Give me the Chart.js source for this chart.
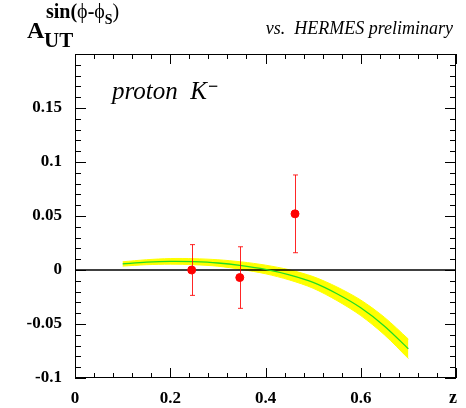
<!DOCTYPE html>
<html>
<head>
<meta charset="utf-8">
<script src="https://cdn.jsdelivr.net/npm/chart.js@4/dist/chart.umd.min.js"></script>
<style>
html,body{margin:0;padding:0;background:#fff;}
#wrap{position:relative;width:466px;height:408px;}
</style>
</head>
<body>
<div id="wrap"><canvas id="c" width="466" height="408"></canvas></div>
<script>
// ---- data ----
const xTickLabels = ["0", "0.2", "0.4", "0.6", ""];
const yTickLabels = ["-0.1", "-0.05", "0", "0.05", "0.1", "0.15", ""];
const zPoints  = [0.245, 0.346, 0.462];
const asym     = [0.000, -0.007, 0.052];
const asymErr  = [0.0235, 0.0285, 0.036];
const bandZ      = [0.10, 0.15, 0.20, 0.25, 0.30, 0.35, 0.40, 0.45, 0.50, 0.55, 0.60, 0.65, 0.70];
const bandCenter = [0.0056, 0.0072, 0.0080, 0.0077, 0.0065, 0.0040, 0.0005, -0.0045, -0.0115, -0.0220, -0.0350, -0.0520, -0.0730];
const bandUpper  = [0.0076, 0.0095, 0.0106, 0.0105, 0.0095, 0.0075, 0.0045, 0.0002, -0.0061, -0.0157, -0.0278, -0.0439, -0.0640];
const bandLower  = [0.0036, 0.0049, 0.0054, 0.0049, 0.0035, 0.0005, -0.0035, -0.0092, -0.0169, -0.0283, -0.0422, -0.0601, -0.0820];
const zeroLineX  = [0, 0.8];

const SERIF = '"Liberation Serif", "DejaVu Serif", serif';

const pts = (xs, ys) => xs.map((x, i) => ({x: x, y: ys[i]}));

const decor = {
  id: 'decor',
  afterDatasetsDraw(chart) {
    const ctx = chart.ctx, xs = chart.scales.x, ys = chart.scales.y;
    const a = chart.chartArea;
    ctx.save();
    // error bars
    ctx.strokeStyle = 'rgba(255,0,0,0.85)';
    ctx.lineWidth = 1;
    zPoints.forEach((z, i) => {
      const px = Math.round(xs.getPixelForValue(z)) + 0.5;
      const top = ys.getPixelForValue(asym[i] + asymErr[i]);
      const bot = ys.getPixelForValue(asym[i] - asymErr[i]);
      ctx.beginPath();
      ctx.moveTo(px, top); ctx.lineTo(px, bot);
      ctx.moveTo(px - 2.5, top); ctx.lineTo(px + 2.5, top);
      ctx.moveTo(px - 2.5, bot); ctx.lineTo(px + 2.5, bot);
      ctx.stroke();
    });
    // frame
    ctx.strokeStyle = '#000';
    ctx.lineWidth = 1;
    ctx.strokeRect(Math.round(a.left) + 0.5, Math.round(a.top) + 0.5,
                   Math.round(a.right - a.left) - 1, Math.round(a.bottom - a.top) - 1);
    // ticks (inside)
    ctx.beginPath();
    for (let k = 0; k <= 20; k++) {
      const v = k * 0.04;
      const px = Math.round(xs.getPixelForValue(v)) + 0.5;
      const len = (k % 5 === 0) ? 10 : 5;
      ctx.moveTo(px, a.bottom); ctx.lineTo(px, a.bottom - len);
      ctx.moveTo(px, a.top); ctx.lineTo(px, a.top + len);
    }
    for (let k = 0; k <= 30; k++) {
      const v = -0.1 + k * 0.01;
      const py = Math.round(ys.getPixelForValue(v)) + 0.5;
      const len = (k % 5 === 0) ? 11 : 6;
      ctx.moveTo(a.left, py); ctx.lineTo(a.left + len, py);
      ctx.moveTo(a.right, py); ctx.lineTo(a.right - len, py);
    }
    ctx.stroke();

    // texts
    ctx.fillStyle = '#000';
    ctx.textBaseline = 'alphabetic';
    ctx.textAlign = 'left';
    // Y title
    ctx.font = 'bold 24px ' + SERIF;
    ctx.fillText('A', 27, 38);
    ctx.font = 'bold 21px ' + SERIF;
    ctx.fillText('UT', 44, 47);
    let x = 46;
    const seg = (t, f, y) => { ctx.font = f; ctx.fillText(t, x, y); x += ctx.measureText(t).width; };
    seg('sin(', 'bold 20px ' + SERIF, 18);
    seg('\u03D5', '20px ' + SERIF, 18);
    seg('-', 'bold 20px ' + SERIF, 18);
    seg('\u03D5', '20px ' + SERIF, 18);
    seg('S', 'bold 14px ' + SERIF, 24);
    seg(')', '20px ' + SERIF, 18);
    // right header
    ctx.font = 'italic 18px ' + SERIF;
    ctx.textAlign = 'right';
    ctx.fillText('vs.  HERMES preliminary', 453, 34);
    // label
    ctx.textAlign = 'left';
    ctx.font = 'italic 25px ' + SERIF;
    ctx.fillText('proton  K', 112, 99);
    const kw = ctx.measureText('proton  K').width;
    ctx.font = 'bold 18px ' + SERIF;
    ctx.fillText('\u2212', 113 + kw, 92);
    // axis title z
    ctx.textAlign = 'center';
    ctx.font = 'bold 18px ' + SERIF;
    ctx.fillText('z', 453, 403);
    ctx.restore();
  }
};

new Chart(document.getElementById('c'), {
  type: 'scatter',
  data: {
    datasets: [
      { label: 'points', data: pts(zPoints, asym), backgroundColor: '#ff0000', borderColor: '#ff0000',
        pointRadius: 4, pointHoverRadius: 4, showLine: false, order: 0 },
      { label: 'center', data: pts(bandZ, bandCenter), borderColor: '#22dd22', borderWidth: 1.3,
        pointRadius: 0, showLine: true, tension: 0.3, fill: false, order: 1 },
      { label: 'zero', data: zeroLineX.map(v => ({x: v, y: 0})), borderColor: '#000', borderWidth: 1.6,
        pointRadius: 0, showLine: true, fill: false, order: 2 },
      { label: 'upper', data: pts(bandZ, bandUpper), borderColor: '#ffff00', borderWidth: 1,
        backgroundColor: '#ffff00', pointRadius: 0, showLine: true, tension: 0.3, fill: '+1', order: 3 },
      { label: 'lower', data: pts(bandZ, bandLower), borderColor: '#ffff00', borderWidth: 1,
        pointRadius: 0, showLine: true, tension: 0.3, fill: false, order: 4 }
    ]
  },
  options: {
    responsive: false,
    animation: false,
    events: [],
    layout: { padding: { left: 0, top: 54, right: 6, bottom: 0 } },
    plugins: { legend: { display: false }, tooltip: { enabled: false } },
    scales: {
      x: {
        type: 'linear', min: 0, max: 0.8,
        grid: { display: false, drawTicks: false },
        border: { display: false },
        afterFit(s) { s.height = 30; },
        afterBuildTicks(s) { s.ticks = xTickLabels.map((_, i) => ({ value: i * 0.2 })); },
        ticks: {
          padding: 10, color: '#000', maxRotation: 0, autoSkip: false,
          font: { family: SERIF, size: 17, weight: 'bold' },
          callback: (v, i) => xTickLabels[i]
        }
      },
      y: {
        type: 'linear', min: -0.1, max: 0.2,
        grid: { display: false, drawTicks: false },
        border: { display: false },
        afterFit(s) { s.width = 75; },
        afterBuildTicks(s) { s.ticks = yTickLabels.map((_, i) => ({ value: -0.1 + i * 0.05 })); },
        ticks: {
          padding: 13, color: '#000', autoSkip: false,
          font: { family: SERIF, size: 17, weight: 'bold' },
          callback: (v, i) => yTickLabels[i]
        }
      }
    }
  },
  plugins: [decor]
});
</script>
</body>
</html>
